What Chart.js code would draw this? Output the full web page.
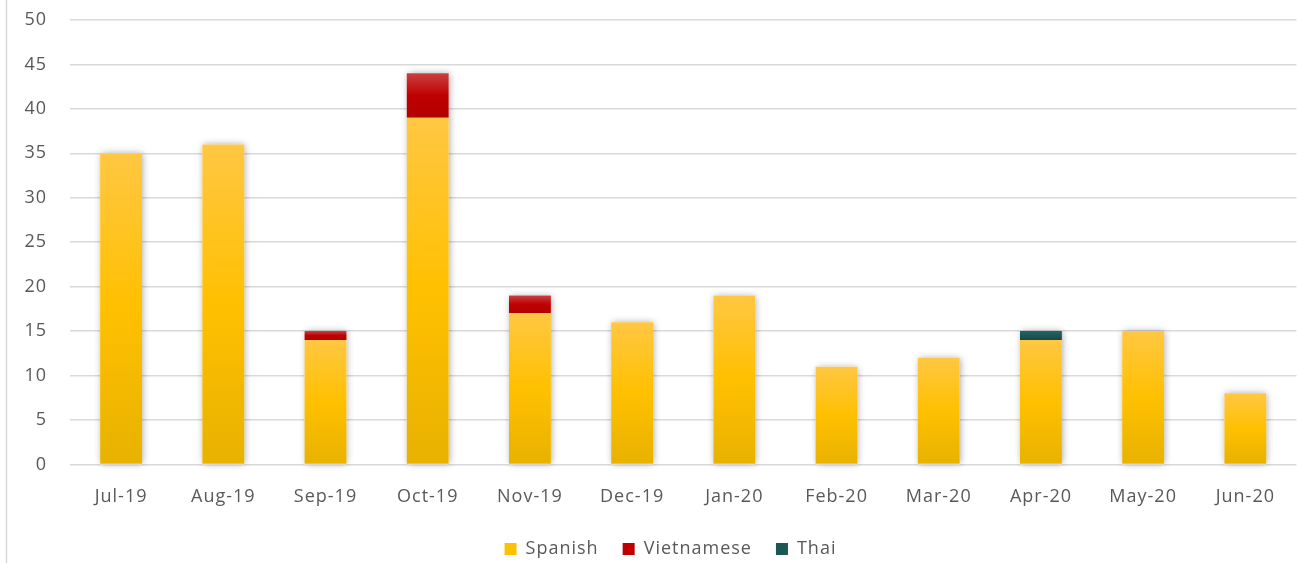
<!DOCTYPE html>
<html>
<head>
<meta charset="utf-8">
<script src="https://cdn.jsdelivr.net/npm/chart.js@4/dist/chart.umd.min.js"></script>
<style>
  html, body { margin: 0; padding: 0; background: #fff; }
  #wrap { width: 1297px; height: 563px; position: relative; }
</style>
</head>
<body>
<div id="wrap"><canvas id="c" width="1297" height="563"></canvas></div>
<script>
const categories = ['Jul-19','Aug-19','Sep-19','Oct-19','Nov-19','Dec-19','Jan-20','Feb-20','Mar-20','Apr-20','May-20','Jun-20'];
const spanish    = [35, 36, 14, 39, 17, 16, 19, 11, 12, 14, 15, 8];
const vietnamese = [0, 0, 1, 5, 2, 0, 0, 0, 0, 0, 0, 0];
const thai       = [0, 0, 0, 0, 0, 0, 0, 0, 0, 1, 0, 0];
const yMin = 0, yMax = 50, yStep = 5;

const seriesNames = ['Spanish', 'Vietnamese', 'Thai'];
const seriesData = [spanish, vietnamese, thai];
const gradStops = [
  ['#FFC743', '#FFC000', '#E8B200'],
  ['#CB3F41', '#C00000', '#B20000'],
  ['#226663', '#1B5755', '#164A48']
];
const solidColors = ['#FFC000', '#C00000', '#1B5755'];

function makeBg(dsIndex) {
  return function(ctx) {
    const chart = ctx.chart;
    if (ctx.type !== 'data' || !chart.chartArea || !chart.scales.y) return solidColors[dsIndex];
    const i = ctx.dataIndex;
    let base = 0;
    for (let d = 0; d < dsIndex; d++) base += seriesData[d][i];
    const top = base + seriesData[dsIndex][i];
    const y = chart.scales.y;
    const yTop = y.getPixelForValue(top);
    const yBase = y.getPixelForValue(base);
    if (!isFinite(yTop) || !isFinite(yBase) || yTop === yBase) return solidColors[dsIndex];
    const g = chart.ctx.createLinearGradient(0, yTop, 0, yBase);
    g.addColorStop(0, gradStops[dsIndex][0]);
    g.addColorStop(0.5, gradStops[dsIndex][1]);
    g.addColorStop(1, gradStops[dsIndex][2]);
    return g;
  };
}

const spacingPlugin = {
  id: 'letterSpacing',
  beforeUpdate(chart) { chart.ctx.letterSpacing = '1px'; },
  beforeLayout(chart) { chart.ctx.letterSpacing = '1px'; },
  beforeDraw(chart) { chart.ctx.letterSpacing = '1px'; }
};

const legendShiftPlugin = {
  id: 'legendShift',
  afterLayout(chart) {
    const lg = chart.legend;
    if (lg) {
      lg.top += 5; lg.bottom += 5;
      lg.left += 22; lg.right += 22;
    }
  }
};

const shadowPlugin = {
  id: 'barShadow',
  beforeDatasetsDraw(chart) {
    const c = chart.ctx;
    const meta0 = chart.getDatasetMeta(0);
    const y = chart.scales.y;
    c.save();
    c.shadowColor = 'rgba(0,0,0,0.35)';
    c.shadowBlur = 7;
    c.shadowOffsetX = 1;
    c.shadowOffsetY = 0;
    c.fillStyle = '#ffffff';
    meta0.data.forEach((el, i) => {
      let total = 0;
      seriesData.forEach(s => total += s[i]);
      const w = el.width;
      const yt = y.getPixelForValue(total);
      const yb = y.getPixelForValue(0);
      c.fillRect(el.x - w / 2, yt, w, yb - yt);
    });
    c.restore();
  }
};

const borderPlugin = {
  id: 'frameBorder',
  beforeDraw(chart) {
    const c = chart.ctx;
    c.save();
    c.strokeStyle = '#D9D9D9';
    c.lineWidth = 1.5;
    c.beginPath();
    c.moveTo(6.5, 0);
    c.lineTo(6.5, chart.height);
    c.stroke();
    c.restore();
  }
};

const fontFamily = '"Open Sans", Lato, "Liberation Sans", sans-serif';

new Chart(document.getElementById('c'), {
  type: 'bar',
  data: {
    labels: categories,
    datasets: seriesNames.map((name, k) => ({
      label: name,
      data: seriesData[k],
      backgroundColor: makeBg(k),
      borderWidth: 0,
      categoryPercentage: 1.0,
      barPercentage: 0.41
    }))
  },
  options: {
    responsive: false,
    animation: false,
    devicePixelRatio: 1,
    layout: { padding: { top: 20, right: 0, bottom: 0, left: 0 } },
    plugins: {
      legend: {
        position: 'bottom',
        labels: {
          boxWidth: 12,
          boxHeight: 12,
          padding: 24,
          color: '#595959',
          font: { family: fontFamily, size: 18 },
          generateLabels(chart) {
            return seriesNames.map((n, k) => ({
              text: n,
              fillStyle: solidColors[k],
              strokeStyle: solidColors[k],
              lineWidth: 0,
              datasetIndex: k,
              fontColor: '#595959'
            }));
          }
        }
      },
      tooltip: { enabled: false }
    },
    scales: {
      x: {
        stacked: true,
        grid: { display: false, drawTicks: false },
        border: { display: false },
        ticks: {
          color: '#595959',
          font: { family: fontFamily, size: 18 },
          padding: 22,
          maxRotation: 0
        },
        afterFit(scale) { scale.height = scale.height - 19; }
      },
      y: {
        stacked: true,
        min: yMin,
        max: yMax,
        ticks: {
          stepSize: yStep,
          color: '#595959',
          font: { family: fontFamily, size: 18 },
          padding: 23
        },
        grid: { color: '#D9D9D9', lineWidth: 1.5, drawTicks: false },
        border: { display: false },
        afterFit(scale) {
          scale.width = 70;
          scale.paddingTop = 0;
          scale.paddingBottom = 0;
        }
      }
    }
  },
  plugins: [spacingPlugin, borderPlugin, shadowPlugin, legendShiftPlugin]
});
</script>
</body>
</html>
